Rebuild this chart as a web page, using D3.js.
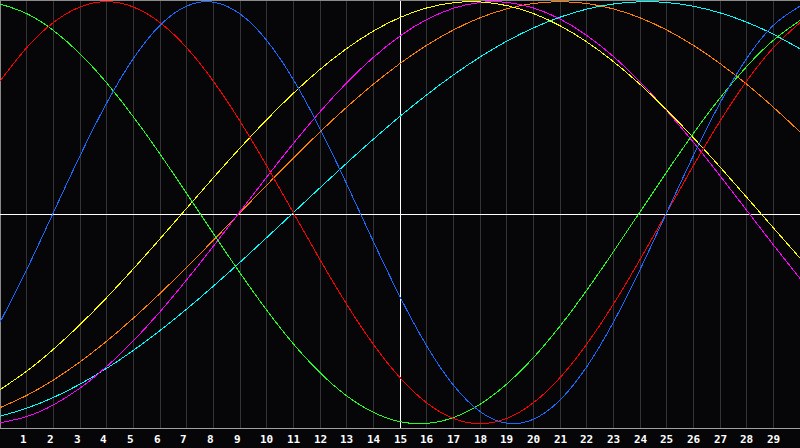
<!DOCTYPE html>
<html>
<head>
<meta charset="utf-8">
<script src="https://cdn.jsdelivr.net/npm/d3@7"></script>
<style>
  html, body { margin: 0; padding: 0; background: #060609; }
  svg { display: block; }
</style>
</head>
<body>
<div class="svgGraphique"></div>
<script>
// jours affichés sur l'axe du bas
const days = d3.range(1, 30);
const points = d3.range(0, 31);

// valeurs, une par jour (0 à 30)
const rouge = [0.6235, 0.7818, 0.9010, 0.9749, 1, 0.9749, 0.9010, 0.7818, 0.6235, 0.4339, 0.2225, 0, -0.2225, -0.4339, -0.6235, -0.7818, -0.9010, -0.9749, -1, -0.9749, -0.9010, -0.7818, -0.6235, -0.4339, -0.2225, 0, 0.2225, 0.4339, 0.6235, 0.7818, 0.9010];
const vert = [0.9893, 0.9437, 0.8641, 0.7533, 0.6151, 0.4548, 0.2781, 0.0913, -0.0988, -0.2853, -0.4616, -0.6211, -0.7581, -0.8679, -0.9463, -0.9904, -0.9987, -0.9709, -0.9080, -0.8124, -0.6875, -0.5375, -0.3681, -0.1855, 0.0038, 0.1930, 0.3750, 0.5438, 0.6930, 0.8170, 0.9111];
const bleu = [-0.5196, -0.2698, 0, 0.2698, 0.5196, 0.7308, 0.8879, 0.9791, 0.9977, 0.9423, 0.8170, 0.6311, 0.3984, 0.1362, -0.1362, -0.3984, -0.6311, -0.8170, -0.9423, -0.9977, -0.9791, -0.8879, -0.7308, -0.5196, -0.2698, 0, 0.2698, 0.5196, 0.7308, 0.8879, 0.9791];
const jaune = [-0.8387, -0.7512, -0.6475, -0.5307, -0.4026, -0.2659, -0.1238, 0.0211, 0.1654, 0.3062, 0.4407, 0.5659, 0.6791, 0.7781, 0.8607, 0.9253, 0.9704, 0.9951, 0.9989, 0.9817, 0.9439, 0.8862, 0.8099, 0.7165, 0.6083, 0.4870, 0.3556, 0.2166, 0.0732, -0.0717, -0.2152];
const magenta = [-0.9954, -0.9664, -0.9112, -0.8316, -0.7295, -0.6075, -0.4694, -0.3183, -0.1589, 0.0049, 0.1686, 0.3277, 0.4781, 0.6155, 0.7360, 0.8371, 0.9153, 0.9689, 0.9963, 0.9969, 0.9705, 0.9180, 0.8406, 0.7405, 0.6207, 0.4838, 0.3340, 0.1751, 0.0115, -0.1523, -0.3122];
const orange = [-0.9239, -0.8660, -0.7934, -0.7071, -0.6088, -0.5, -0.3827, -0.2588, -0.1305, 0, 0.1305, 0.2588, 0.3827, 0.5, 0.6088, 0.7071, 0.7934, 0.8660, 0.9239, 0.9659, 0.9914, 1, 0.9914, 0.9659, 0.9239, 0.8660, 0.7934, 0.7071, 0.6088, 0.5, 0.3827];
const cyan = [-0.9647, -0.9267, -0.8758, -0.8125, -0.7378, -0.6526, -0.5585, -0.4566, -0.3483, -0.2349, -0.1183, 0, 0.1183, 0.2349, 0.3483, 0.4566, 0.5585, 0.6526, 0.7378, 0.8125, 0.8758, 0.9267, 0.9647, 0.9890, 0.9996, 0.9961, 0.9785, 0.9473, 0.9028, 0.8456, 0.7766];

const series = [
  { nom: "orange", valeurs: orange, couleur: "#ff8000" },
  { nom: "cyan", valeurs: cyan, couleur: "#00ffff" },
  { nom: "magenta", valeurs: magenta, couleur: "#ff00ff" },
  { nom: "jaune", valeurs: jaune, couleur: "#ffff00" },
  { nom: "vert", valeurs: vert, couleur: "#22ff22" },
  { nom: "rouge", valeurs: rouge, couleur: "#ff0000" },
  { nom: "bleu", valeurs: bleu, couleur: "#1a6aff" }
];

const width = 800;
const height = 448;
const basGraph = 428;

const svg = d3.create('svg')
    .attr('width', width)
    .attr('height', height)
    .attr('viewBox', `0 0 ${width} ${height}`)
    .style('background-color', '#060609');

const x = d3.scaleLinear().domain([0, 30]).range([0, width]);
const y = d3.scaleLinear().domain([-1, 1]).range([423.7, 1.7]);

// grille verticale (un trait par jour)
svg.append('g')
    .selectAll('line')
    .data(days)
    .join('line')
    .attr('x1', d => Math.floor(x(d)) + 0.5)
    .attr('x2', d => Math.floor(x(d)) + 0.5)
    .attr('y1', 0)
    .attr('y2', basGraph)
    .attr('stroke', d => d === 15 ? '#ffffff' : '#333336')
    .attr('shape-rendering', 'crispEdges');

// bordure haut / gauche
svg.append('path')
    .attr('d', `M0.5,${basGraph} V0.5 H${width}`)
    .attr('fill', 'none')
    .attr('stroke', '#8a8a8a')
    .attr('shape-rendering', 'crispEdges');

// ligne horizontale du milieu
svg.append('line')
    .attr('x1', 0).attr('x2', width)
    .attr('y1', 214.5).attr('y2', 214.5)
    .attr('stroke', '#ffffff')
    .attr('shape-rendering', 'crispEdges');

// les courbes
const line = d3.line()
    .x((d, i) => x(points[i]))
    .y(d => y(d))
    .curve(d3.curveNatural);

svg.append('g')
    .selectAll('path')
    .data(series)
    .join('path')
    .attr('d', d => line(d.valeurs))
    .attr('fill', 'none')
    .attr('stroke', d => d.couleur)
    .attr('stroke-width', 1)
    .attr('shape-rendering', 'crispEdges');

// axe du bas
svg.append('line')
    .attr('x1', 0).attr('x2', width)
    .attr('y1', basGraph + 0.5).attr('y2', basGraph + 0.5)
    .attr('stroke', '#a0a0a0')
    .attr('shape-rendering', 'crispEdges');

svg.append('g')
    .selectAll('text')
    .data(days)
    .join('text')
    .attr('x', d => Math.floor(x(d)) - 6 + String(d).length * 3.25)
    .attr('y', 443)
    .attr('text-anchor', 'middle')
    .attr('fill', '#ffffff')
    .attr('font-family', '"DejaVu Sans Mono", monospace')
    .attr('font-weight', 'bold')
    .attr('font-size', 11)
    .text(d => d);

document.querySelector('.svgGraphique').appendChild(svg.node());
</script>
</body>
</html>
